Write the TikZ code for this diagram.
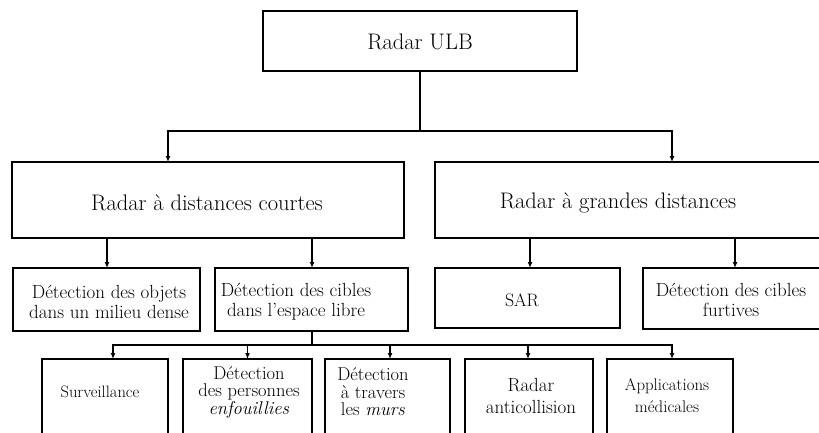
\documentclass[tikz,border=0pt]{standalone}
\usetikzlibrary{arrows.meta}
\begin{document}
\begin{tikzpicture}[x=1pt,y=-1pt,
  box/.style={draw, line width=1.8pt, rectangle, anchor=north west, inner sep=0pt, outer sep=0pt},
  lbl/.style={align=center, inner sep=0pt},
  big/.style={lbl, font=\fontsize{22.5}{26}\selectfont},
  mid/.style={lbl, font=\fontsize{19}{20}\selectfont},
  small/.style={lbl, font=\fontsize{18.5}{17.5}\selectfont},
  conn/.style={line width=1.5pt},
  arr/.style={line width=1.5pt, -{Latex[length=6pt,width=5pt]}}]
\clip (0,0) rectangle (819,432);
\useasboundingbox (0,0) rectangle (819,432);
% boxes
\node[box, minimum width=314pt, minimum height=60pt] (ulb) at (263,11) {};
\node[box, minimum width=392pt, minimum height=76pt] (court) at (12,162) {};
\node[box, minimum width=400pt, minimum height=76pt] (grand) at (435,162) {};
\node[box, minimum width=187pt, minimum height=63pt] (objets) at (13,268) {};
\node[box, minimum width=193pt, minimum height=63pt] (libre) at (215,268) {};
\node[box, minimum width=185pt, minimum height=60pt] (sar) at (435,268) {};
\node[box, minimum width=200pt, minimum height=61pt] (furt) at (643,268) {};
\node[box, minimum width=126pt, minimum height=90pt] (surv) at (42,359) {};
\node[box, minimum width=129pt, minimum height=90pt] (pers) at (183,359) {};
\node[box, minimum width=125pt, minimum height=90pt] (trav) at (325,359) {};
\node[box, minimum width=128pt, minimum height=90pt] (anti) at (465,359) {};
\node[box, minimum width=126pt, minimum height=90pt] (med) at (607,359) {};
% texts
\node[big] (tulb) at (420,42) {Radar ULB};
\node[big] (tcourt) at (207,203) {Radar à distances courtes};
\node[big] (tgrand) at (618,203) {Radar à grandes distances};
\node[mid] (tobjets) at (109,302) {Détection des objets\\dans un milieu dense};
\node[mid] (tlibre) at (296,302) {Détection des cibles\\dans l'espace libre};
\node[mid, font=\fontsize{18}{20}\selectfont] (tsar) at (522,300) {SAR};
\node[mid] (tfurt) at (731,300) {Détection des cibles\\furtives};
\node[small, font=\fontsize{16.5}{17}\selectfont] (tsurv) at (100,392) {Surveillance};
\node[small] (tpers) at (249,392) {Détection\\des personnes\\\textit{enfouillies}};
\node[small] (ttrav) at (373,392) {Détection\\à travers\\les \textit{murs}};
\node[small, font=\fontsize{19}{22}\selectfont] (tanti) at (531,396) {Radar\\anticollision};
\node[small, font=\fontsize{16.8}{22}\selectfont] (tmed) at (667,396) {Applications\\médicales};
% connectors
\coordinate (j1) at (420,131);
\draw[conn] (ulb.south) -- (j1);
\draw[arr] (j1) -| ([xshift=156pt]court.north west);
\draw[arr] (j1) -| ([xshift=237pt]grand.north west);
\draw[arr] ([xshift=95pt]court.south west) -- ([xshift=95pt]court.south west |- objets.north);
\draw[arr] ([xshift=300pt]court.south west) -- ([xshift=300pt]court.south west |- libre.north);
\draw[arr] ([xshift=95pt]grand.south west) -- ([xshift=95pt]grand.south west |- sar.north);
\draw[arr] ([xshift=300pt]grand.south west) -- ([xshift=300pt]grand.south west |- furt.north);
\coordinate (j2) at (312,345);
\draw[conn] ([xshift=97pt]libre.south west) -- (j2);
\draw[arr] (j2) -| ([xshift=71pt]surv.north west);
\draw[arr] (j2) -| (pers.north);
\draw[arr] (j2) -| ([xshift=65pt]trav.north west);
\draw[arr] (j2) -| ([xshift=63pt]anti.north west);
\draw[arr] (j2) -| ([xshift=65pt]med.north west);
\end{tikzpicture}
\end{document}
